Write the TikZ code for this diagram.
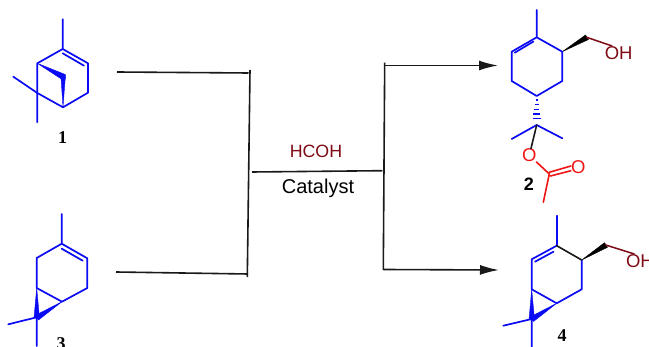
\documentclass[tikz,border=0pt]{standalone}
\usepackage{fontspec}
\setmainfont{Liberation Sans}
\newfontfamily\serifnum{Liberation Serif}
\definecolor{bondblue}{RGB}{10,10,245}
\definecolor{oxred}{RGB}{240,20,20}
\definecolor{darkred}{RGB}{125,10,20}
\usetikzlibrary{arrows.meta,calc}
\tikzset{
  bond/.style={draw=bondblue,line width=1.7pt,line cap=round,line join=round},
  blackbond/.style={draw=black!90,line width=1.6pt,line cap=round},
  redbond/.style={draw=oxred,line width=1.6pt,line cap=round},
  brownbond/.style={draw=darkred,line width=1.5pt,line cap=round},
  wedgeb/.style={fill=bondblue,draw=bondblue,line width=.4pt,line join=round},
  wedgek/.style={fill=black,draw=black,line width=.4pt,line join=round},
  frame/.style={draw=black!90,line width=1.6pt},
  flow/.style={frame,-{Latex[length=19pt,width=10pt]}},
  atomlabel/.style={inner sep=0pt,font=\fontsize{18.5}{18}\selectfont},
  sflabel/.style={inner sep=0pt,font=\fontsize{20}{20}\selectfont},
  numlabel/.style={inner sep=0pt,font=\fontsize{18}{18}\selectfont\bfseries\serifnum},
}
\begin{document}
\begin{tikzpicture}[x=1pt,y=-1pt]
\useasboundingbox (0,0) rectangle (649,347);
\begin{scope}
\clip (0,0) rectangle (649,347);
% molecule 1
\coordinate (a0) at (62.7,19.3);
\coordinate (a1) at (62.7,49);
\coordinate (a2) at (88,63.3);
\coordinate (a3) at (88,92.7);
\coordinate (a4) at (63,107.3);
\coordinate (a5) at (37.3,93);
\coordinate (a6) at (37.3,63.3);
\coordinate (a7) at (13.3,76.7);
\coordinate (a8) at (37.3,122.3);
\coordinate (a9) at (63.3,77.3);
\coordinate (a10) at (62.7,53.3);
\coordinate (a11) at (84,65.7);
\fill[wedgeb] (a6) -- (65.3,74.5) -- (65.3,79) -- (61.3,79) -- cycle;
\fill[wedgeb] (a4) -- (65.3,77.3) -- (61,77.3) -- cycle;
\path[bond] (a0) -- (a1) -- (a2) -- (a3) -- (a4) -- (a5) -- (a6) -- (a1);
\path[bond] (a10) -- (a11);
\path[bond] (a7) -- (a5) -- (a8);
\node[numlabel] (n1) at (62.7,138) {1};
% molecule 3
\coordinate (b0) at (61.7,214);
\coordinate (b1) at (61.7,243.7);
\coordinate (b2) at (87.3,258.3);
\coordinate (b3) at (87.3,288);
\coordinate (b4) at (62,301.7);
\coordinate (b5) at (36.7,288);
\coordinate (b6) at (36.7,258);
\coordinate (b7) at (36.7,317.3);
\coordinate (b8) at (8.3,324.3);
\coordinate (b9) at (36.7,346);
\coordinate (b10) at (61.7,248.7);
\coordinate (b11) at (82.7,260.7);
\fill[wedgeb] (b5) -- (34,318) -- (39.5,318) -- cycle;
\fill[wedgeb] (b4) -- (35,315.5) -- (38.5,320) -- cycle;
\path[bond] (b0) -- (b1) -- (b2) -- (b3) -- (b4) -- (b5) -- (b6) -- (b1);
\path[bond] (b10) -- (b11);
\path[bond] (b8) -- (b7) -- (b9);
\node[numlabel] (n3) at (61,343.5) {3};
% molecule 2
\coordinate (c0) at (536.7,10);
\coordinate (c1) at (536.7,37.3);
\coordinate (c2) at (511.7,51.7);
\coordinate (c3) at (511.7,81);
\coordinate (c4) at (536.7,96);
\coordinate (c5) at (562.3,81);
\coordinate (c6) at (562.3,51.7);
\coordinate (c7) at (586.7,37.3);
\coordinate (c8) at (536.7,125);
\coordinate (c9) at (511.7,139);
\coordinate (c10) at (562.3,138.3);
\coordinate (c11) at (549.3,174);
\coordinate (c12) at (543.3,202.3);
\coordinate (c13) at (533.5,41.5);
\coordinate (c14) at (514.7,52.7);
\fill[wedgek] (c6) -- (585.5,35) -- (588.5,39.5) -- cycle;
\path[bond] (c0) -- (c1) -- (c2) -- (c3) -- (c4) -- (c5) -- (c6) -- (c1);
\path[bond] (c13) -- (c14);
\foreach \t/\w in {0.14/1.2,0.30/1.9,0.46/2.6,0.62/3.3,0.78/4}{
  \path[draw=bondblue,line width=1.6pt] ($(c4)!\t!(c8)$) ++(-\w,0) -- ++(2*\w,0);
}
\path[bond] (c9) -- (c8) -- (c10);
\node[atomlabel,text=oxred] (c15) at (529.3,155.3) {O};
\node[atomlabel,text=oxred] (c16) at (578.3,167.3) {O};
\node[atomlabel,text=darkred,anchor=center] (c17) at (618.7,52.7) {OH};
\path[blackbond] (c8) -- (c15);
\path[redbond] (c15) -- (c11) -- (c12);
\path[redbond] (549.3,172.3) -- (c16.170);
\path[redbond] (550.5,176) -- (c16.205);
\path[brownbond] (c7) -- (c17.135);
\node[font=\fontsize{18}{18}\selectfont\bfseries,inner sep=0pt] (n2) at (529,184.3) {2};
% molecule 4
\coordinate (d0) at (556.7,215.7);
\coordinate (d1) at (556.7,245.7);
\coordinate (d2) at (531.7,259.3);
\coordinate (d3) at (531.7,289.3);
\coordinate (d4) at (556.7,303.3);
\coordinate (d5) at (581.7,289.3);
\coordinate (d6) at (581.7,260);
\coordinate (d7) at (605.7,245);
\coordinate (d8) at (531.7,319);
\coordinate (d9) at (503.3,325.7);
\coordinate (d10) at (531.7,346.7);
\coordinate (d11) at (535,261.7);
\coordinate (d12) at (553.5,251.7);
\fill[wedgek] (d6) -- (604.5,242.7) -- (607.5,247.3) -- cycle;
\fill[wedgeb] (d3) -- (529,319.5) -- (534.5,319.5) -- cycle;
\fill[wedgeb] (d4) -- (530,317) -- (533.5,321.5) -- cycle;
\path[bond] (d0) -- (d1);
\path[bond] (d1) -- (d2) -- (d3) -- (d4) -- (d5) -- (d6);
\path[blackbond] (d6) -- (d1);
\path[bond] (d11) -- (d12);
\path[bond] (d9) -- (d8) -- (d10);
\node[atomlabel,text=darkred,anchor=west] (d13) at (625.8,260.7) {OH};
\path[brownbond] (d7) -- (d13.130);
\node[numlabel] (n4) at (562,335.7) {4};
% scheme
\coordinate (e1) at (117,72);
\coordinate (e2) at (248.5,73);
\coordinate (e3) at (250,70);
\coordinate (e4) at (247.3,277);
\coordinate (e5) at (116,272);
\coordinate (e6) at (248,274);
\coordinate (e7) at (252,172);
\coordinate (e8) at (382.3,170.7);
\coordinate (e9) at (384.7,62.7);
\coordinate (e10) at (383.3,270);
\coordinate (e11) at (384.5,65.5);
\coordinate (e12) at (498,65.5);
\coordinate (e13) at (383.3,269.5);
\coordinate (e14) at (499,270);
\path[frame] (e1) -- (e2);
\path[frame] (e3) -- (e4);
\path[frame] (e5) -- (e6);
\path[frame] (e7) -- (e8);
\path[frame] (e9) -- (e10);
\path[flow] (e11) -- (e12);
\path[flow] (e13) -- (e14);
\node[sflabel,text=darkred,font=\fontsize{17.8}{20}\selectfont] (t1) at (316,151) {HCOH};
\node[sflabel] (t2) at (318,188.5) {Catalyst};
\end{scope}
\end{tikzpicture}
\end{document}
